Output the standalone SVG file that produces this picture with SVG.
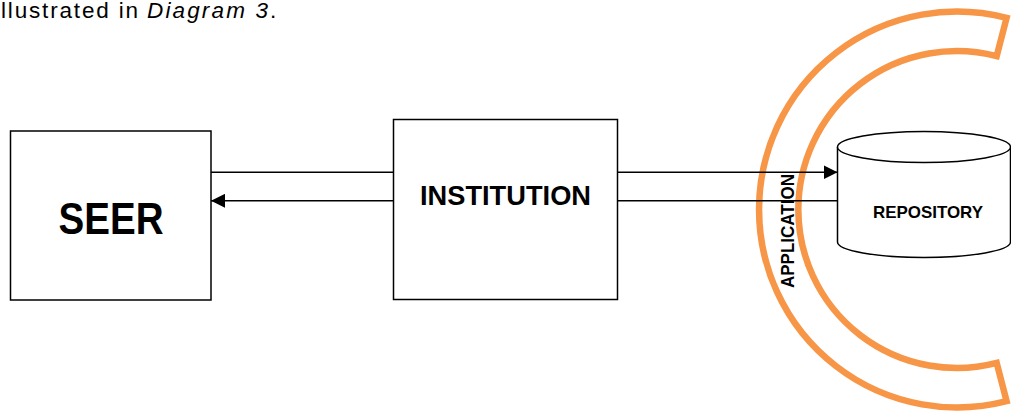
<svg xmlns="http://www.w3.org/2000/svg" width="1011" height="413" viewBox="0 0 1011 413">
<style>
.box{fill:#fff;stroke:#000;stroke-width:1.5}
.lbl{font-family:"Liberation Sans",Arial,sans-serif;font-weight:bold;fill:#000}
.body{font-family:"Liberation Sans",Arial,sans-serif;font-size:22.5px;fill:#000}
.conn{stroke:#000;stroke-width:1.6;fill:none}
.arc{fill:none;stroke:#F79646;stroke-width:6.5}
</style>
<defs>
<marker id="ah" viewBox="0 0 14 14" refX="14" refY="7" markerWidth="14" markerHeight="14" markerUnits="userSpaceOnUse" orient="auto">
<path d="M0,0 L14,7 L0,14 Z" fill="#000"/>
</marker>
</defs>
<rect width="1011" height="413" fill="#fff"/>
<g id="caption">
<text class="body" x="1" y="18" textLength="137" lengthAdjust="spacing">llustrated in</text>
<text class="body" x="147" y="18" font-style="italic" textLength="121" lengthAdjust="spacing">Diagram 3</text>
<text class="body" x="270" y="18">.</text>
</g>
<g id="application">
<path class="arc" d="M1006.6,17.8 A198,198 0 1 0 1006.6,401.2 L996.7,362.9 A158.5,158.5 0 1 1 996.7,56.1 Z"/>
</g>
<g id="seer">
<rect class="box" x="10.5" y="131" width="200.5" height="169"/>
<text class="lbl" x="111" y="234" font-size="45" text-anchor="middle" textLength="105" lengthAdjust="spacingAndGlyphs">SEER</text>
</g>
<g id="institution">
<rect class="box" x="393.5" y="119.5" width="224" height="180"/>
<text class="lbl" x="505.5" y="205" font-size="28" text-anchor="middle" textLength="171" lengthAdjust="spacingAndGlyphs">INSTITUTION</text>
</g>
<g id="repository">
<path class="box" d="M837.5,147 L837.5,242 A86.5,15.5 0 0 0 1010.5,242 L1010.5,147"/>
<ellipse class="box" cx="924" cy="147" rx="86.5" ry="15.5"/>
<text class="lbl" x="928" y="218.3" font-size="17" text-anchor="middle" textLength="110" lengthAdjust="spacingAndGlyphs">REPOSITORY</text>
</g>
<g id="connectors">
<line class="conn" x1="211" y1="172.3" x2="393.5" y2="172.3"/>
<line class="conn" x1="393.5" y1="200.8" x2="211" y2="200.8" marker-end="url(#ah)"/>
<line class="conn" x1="617.5" y1="172.3" x2="837.5" y2="172.3" marker-end="url(#ah)"/>
<line class="conn" x1="617.5" y1="200.8" x2="837.5" y2="200.8"/>
</g>
<g id="application-label">
<text class="lbl" transform="translate(794,288) rotate(-90)" x="0" y="0" font-size="18" textLength="114" lengthAdjust="spacingAndGlyphs">APPLICATION</text>
</g>
</svg>
